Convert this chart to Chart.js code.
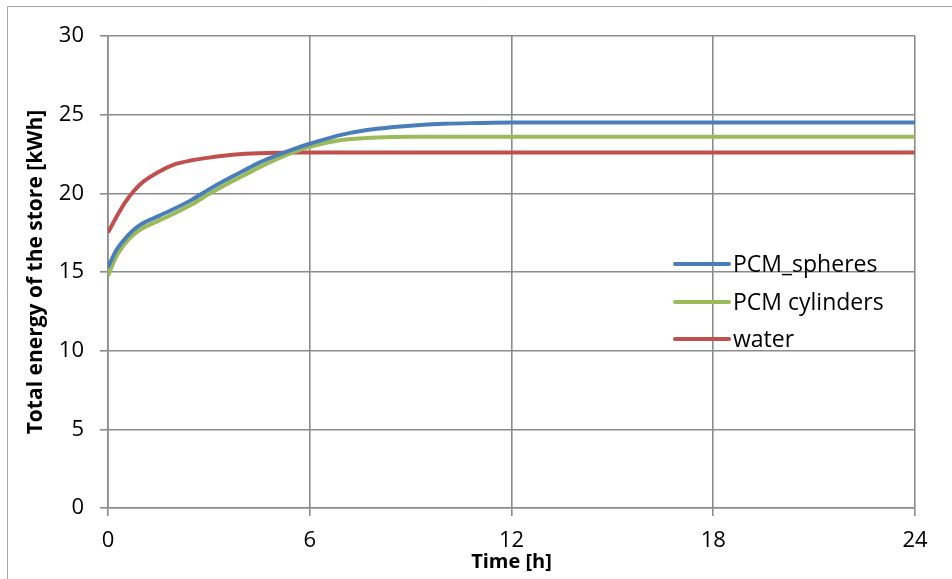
<!DOCTYPE html>
<html>
<head>
<meta charset="utf-8">
<script src="https://cdn.jsdelivr.net/npm/chart.js@4.4.1/dist/chart.umd.min.js"></script>
<style>
  html, body { margin: 0; padding: 0; background: #fff; }
  #wrap { width: 952px; height: 579px; }
</style>
</head>
<body>
<div id="wrap"><canvas id="myChart" width="952" height="579"></canvas></div>
<script>
// time in hours
var hours = [0, 0.25, 0.5, 0.75, 1, 1.5, 2, 2.5, 3, 3.5, 4, 4.5, 5, 5.5, 6, 7, 8, 9, 10, 11, 12, 14, 16, 18, 20, 22, 24];
var pcmSpheres = [15.3, 16.4, 17.1, 17.65, 18.05, 18.55, 19.05, 19.6, 20.25, 20.85, 21.4, 21.95, 22.4, 22.8, 23.15, 23.75, 24.1, 24.3, 24.42, 24.47, 24.5, 24.5, 24.5, 24.5, 24.5, 24.5, 24.5];
var pcmCylinders = [14.75, 16.0, 16.8, 17.35, 17.75, 18.25, 18.75, 19.3, 19.95, 20.55, 21.1, 21.65, 22.15, 22.6, 22.95, 23.4, 23.55, 23.6, 23.6, 23.6, 23.6, 23.6, 23.6, 23.6, 23.6, 23.6, 23.6];
var water = [17.5, 18.5, 19.4, 20.1, 20.65, 21.35, 21.85, 22.1, 22.27, 22.4, 22.5, 22.55, 22.58, 22.6, 22.6, 22.6, 22.6, 22.6, 22.6, 22.6, 22.6, 22.6, 22.6, 22.6, 22.6, 22.6, 22.6];
var seriesNames = ["PCM_spheres", "PCM cylinders", "water"];
var seriesColors = ["#4a7ebb", "#9bbb59", "#c0504d"];

var gridColor = "#8c8c8c";
var fontName = "'Open Sans', sans-serif";

function toPoints(ys) {
    var pts = [];
    for (var i = 0; i < hours.length; i++) {
        pts.push({x: hours[i], y: ys[i]});
    }
    return pts;
}

// frame around the chart (only left and top visible)
var framePlugin = {
    id: "frame",
    beforeDraw: function (chart) {
        var ctx = chart.ctx;
        ctx.save();
        ctx.strokeStyle = "#a6a6a6";
        ctx.lineWidth = 1;
        ctx.beginPath();
        ctx.moveTo(7.5, 600);
        ctx.lineTo(7.5, 6.5);
        ctx.lineTo(1000, 6.5);
        ctx.stroke();
        ctx.restore();
    }
};

// legend drawn inside the plot, like the original
var legendPlugin = {
    id: "innerLegend",
    afterDraw: function (chart) {
        var ctx = chart.ctx;
        var rows = [264, 302, 339];
        ctx.save();
        ctx.font = "23px " + fontName;
        ctx.textBaseline = "middle";
        ctx.textAlign = "left";
        chart.data.datasets.forEach(function (ds, i) {
            ctx.strokeStyle = ds.borderColor;
            ctx.lineWidth = 4;
            ctx.lineCap = "round";
            ctx.beginPath();
            ctx.moveTo(675, rows[i]);
            ctx.lineTo(729, rows[i]);
            ctx.stroke();
            ctx.fillStyle = "#000";
            ctx.fillText(ds.label, 733, rows[i] + 1);
        });
        ctx.restore();
    }
};

var ctx = document.getElementById("myChart").getContext("2d");
var myChart = new Chart(ctx, {
    type: "line",
    data: {
        datasets: [
            {label: seriesNames[0], data: toPoints(pcmSpheres), borderColor: seriesColors[0]},
            {label: seriesNames[1], data: toPoints(pcmCylinders), borderColor: seriesColors[1]},
            {label: seriesNames[2], data: toPoints(water), borderColor: seriesColors[2]}
        ]
    },
    options: {
        responsive: false,
        animation: false,
        devicePixelRatio: 1,
        layout: {padding: {left: 0, top: 36, right: 37, bottom: 0}},
        elements: {
            line: {borderWidth: 4, cubicInterpolationMode: "monotone", fill: false},
            point: {radius: 0, hoverRadius: 0}
        },
        plugins: {
            legend: {display: false},
            tooltip: {enabled: false}
        },
        scales: {
            x: {
                type: "linear",
                min: 0,
                max: 24,
                afterFit: function (scale) { scale.height = 71; },
                grid: {color: gridColor, lineWidth: 1.6, tickLength: 8, drawTicks: true},
                border: {color: gridColor, width: 1.6},
                ticks: {stepSize: 6, color: "#000", font: {family: fontName, size: 22}, padding: 12, maxRotation: 0},
                title: {display: true, text: "Time [h]", color: "#000",
                        font: {family: fontName, size: 20, weight: "bold"}, padding: {top: 0, bottom: 5}}
            },
            y: {
                min: 0,
                max: 30,
                afterFit: function (scale) { scale.width = 108; },
                grid: {color: gridColor, lineWidth: 1.6, tickLength: 8, drawTicks: true},
                border: {color: gridColor, width: 1.6},
                ticks: {stepSize: 5, color: "#000", font: {family: fontName, size: 22}, padding: 16},
                title: {display: true, text: "Total energy of the store [kWh]", color: "#000",
                        font: {family: fontName, size: 21, weight: "bold"}, padding: {top: 23, bottom: 0}}
            }
        }
    },
    plugins: [framePlugin, legendPlugin]
});
</script>
</body>
</html>
